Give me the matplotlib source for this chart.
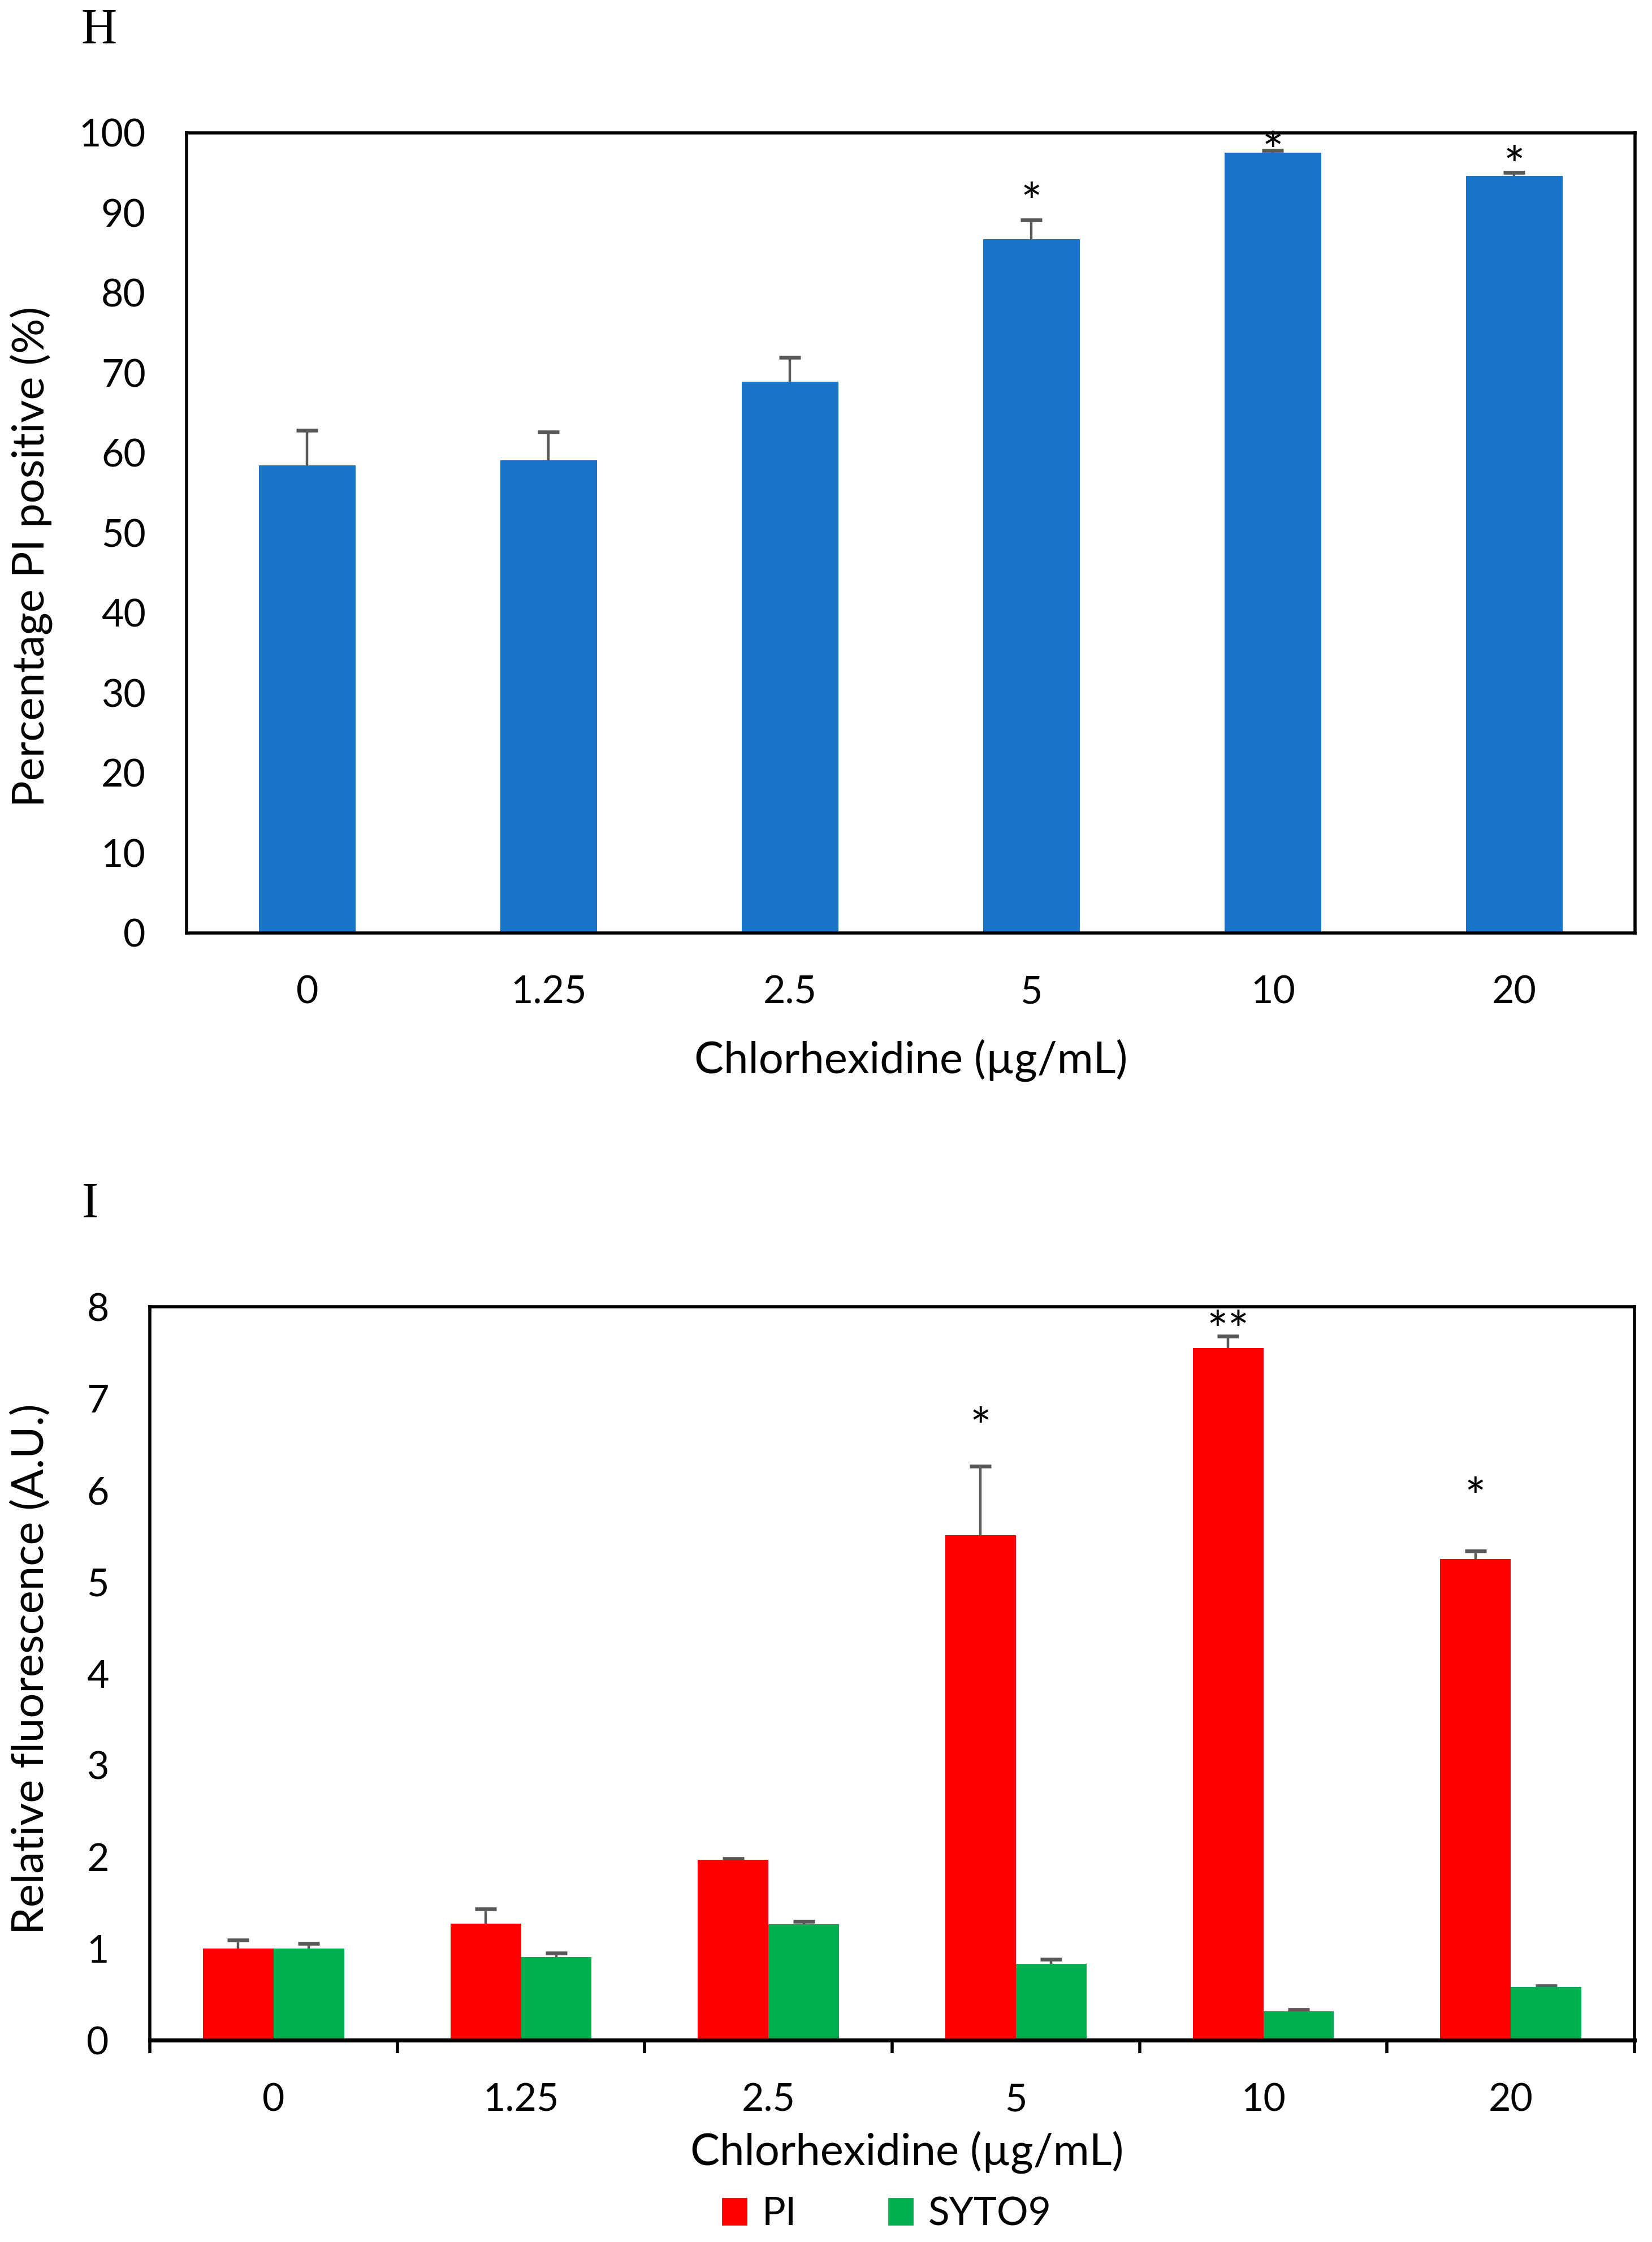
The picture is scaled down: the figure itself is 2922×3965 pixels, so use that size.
import numpy as np
import matplotlib
matplotlib.use("Agg")
import matplotlib.pyplot as plt
from matplotlib.patches import Patch
from matplotlib.transforms import offset_copy

# --- data ---
conc_labels = ["0", "1.25", "2.5", "5", "10", "20"]

pi_pct = [58.4, 59.1, 68.9, 86.7, 97.5, 94.6]
pi_pct_err = [4.4, 3.5, 3.0, 2.4, 0.3, 0.4]
pct_stars = ["", "", "", "*", "*", "*"]
pct_star_y = [0, 0, 0, 92.4, 98.8, 97.0]

pi_fluo = [1.0, 1.27, 1.97, 5.51, 7.55, 5.25]
pi_fluo_err = [0.09, 0.165, 0.01, 0.75, 0.13, 0.085]
syto9_fluo = [1.0, 0.907, 1.264, 0.835, 0.315, 0.581]
syto9_fluo_err = [0.055, 0.045, 0.035, 0.05, 0.02, 0.015]
fluo_stars = ["", "", "", "*", "**", "*"]
fluo_star_y = [0, 0, 0, 6.79, 7.84, 6.02]

blue = "#1874C8"
red = "#FF0000"
green = "#00B050"
errc = "#595959"

plt.rcParams['font.family'] = ['Lato', 'DejaVu Sans']

fig = plt.figure(figsize=(14.61, 19.825), dpi=200)

tick_fs = 24.5
lab_fs = 28
star_fs = 32


def upper_err(ax, xs, vals, errs):
    # only the upper whisker, cap drawn as a marker at its end
    vals = np.asarray(vals)
    errs = np.asarray(errs)
    ax.errorbar(xs, vals, yerr=[np.zeros(len(vals)), errs], fmt='none',
                ecolor=errc, elinewidth=1.6, capsize=0, zorder=1)
    ax.plot(xs, vals + errs, ls='', marker='_', markersize=13.6,
            mew=2.4, color=errc, zorder=1)


def stars(ax, xs, labels, ys):
    tr = offset_copy(ax.transData, fig=fig, x=0, y=-8, units='points')
    for xi, s, yi in zip(xs, labels, ys):
        if s:
            ax.text(xi, yi, s, ha='center', va='center', fontsize=star_fs,
                    transform=tr, clip_on=False, zorder=3)


# ---------------- panel H ----------------
ax1 = fig.add_axes([0.1129, 0.5839, 0.8768, 0.3569])
x = np.arange(len(conc_labels))
ax1.bar(x, pi_pct, width=0.40, color=blue, zorder=2)
upper_err(ax1, x, pi_pct, pi_pct_err)
stars(ax1, x, pct_stars, pct_star_y)
ax1.set_xlim(-0.5, 5.5)
ax1.set_ylim(0, 100)
ax1.set_yticks(np.arange(0, 101, 10))
ax1.set_xticks(x, conc_labels)
ax1.tick_params(axis='both', length=0, labelsize=tick_fs)
ax1.tick_params(axis='y', pad=26)
ax1.tick_params(axis='x', pad=27)
for sp in ax1.spines.values():
    sp.set_linewidth(2.0)
ax1.set_xlabel("Chlorhexidine (µg/mL)", fontsize=lab_fs)
ax1.xaxis.set_label_coords(0.5, -0.159)
ax1.xaxis.label.set_va('center')
ax1.set_ylabel("Percentage PI positive (%)", fontsize=lab_fs)
ax1.yaxis.set_label_coords(-0.1073, 0.47)
ax1.yaxis.label.set_va('center')

fig.text(144 / 2922, 1 - 75 / 3965, "H", family='Liberation Serif',
         fontsize=31.5, ha='left', va='baseline')

# ---------------- panel I ----------------
ax2 = fig.add_axes([0.0907, 0.0900, 0.8987, 0.3271])
bw = 0.285
ax2.bar(x - bw / 2, pi_fluo, width=bw, color=red, zorder=2)
ax2.bar(x + bw / 2, syto9_fluo, width=bw, color=green, zorder=2)
upper_err(ax2, x - bw / 2, pi_fluo, pi_fluo_err)
upper_err(ax2, x + bw / 2, syto9_fluo, syto9_fluo_err)
stars(ax2, x - bw / 2, fluo_stars, fluo_star_y)
ax2.set_xlim(-0.5, 5.5)
ax2.set_ylim(0, 8)
ax2.set_yticks(np.arange(0, 9, 1))
ax2.set_xticks(x, conc_labels)
ax2.set_xticks(np.arange(-0.5, 6, 1), minor=True)
ax2.tick_params(axis='both', which='major', length=0, labelsize=tick_fs)
ax2.tick_params(axis='y', pad=26)
ax2.tick_params(axis='x', which='major', pad=27)
ax2.tick_params(axis='x', which='minor', length=8.3, width=2.0, direction='out')
for sp in ax2.spines.values():
    sp.set_linewidth(2.0)
ax2.spines['bottom'].set_linewidth(2.6)
ax2.set_xlabel("Chlorhexidine (µg/mL)", fontsize=lab_fs)
ax2.xaxis.set_label_coords(0.51, -0.1527)
ax2.xaxis.label.set_va('center')
ax2.set_ylabel("Relative fluorescence (A.U.)", fontsize=lab_fs)
ax2.yaxis.set_label_coords(-0.080, 0.506)
ax2.yaxis.label.set_va('center')

fig.text(145 / 2922, 1 - 2151 / 3965, "I", family='Liberation Serif',
         fontsize=31.5, ha='left', va='baseline')

handles = [Patch(color=red, label="PI"), Patch(color=green, label="SYTO9")]
fig.legend(handles=handles, loc='center', bbox_to_anchor=(0.537, 0.0124),
           ncol=2, frameon=False, fontsize=25, handlelength=0.6,
           handleheight=0.65, handletextpad=0.4, columnspacing=2.35)

fig.savefig("out.png", dpi=200)
